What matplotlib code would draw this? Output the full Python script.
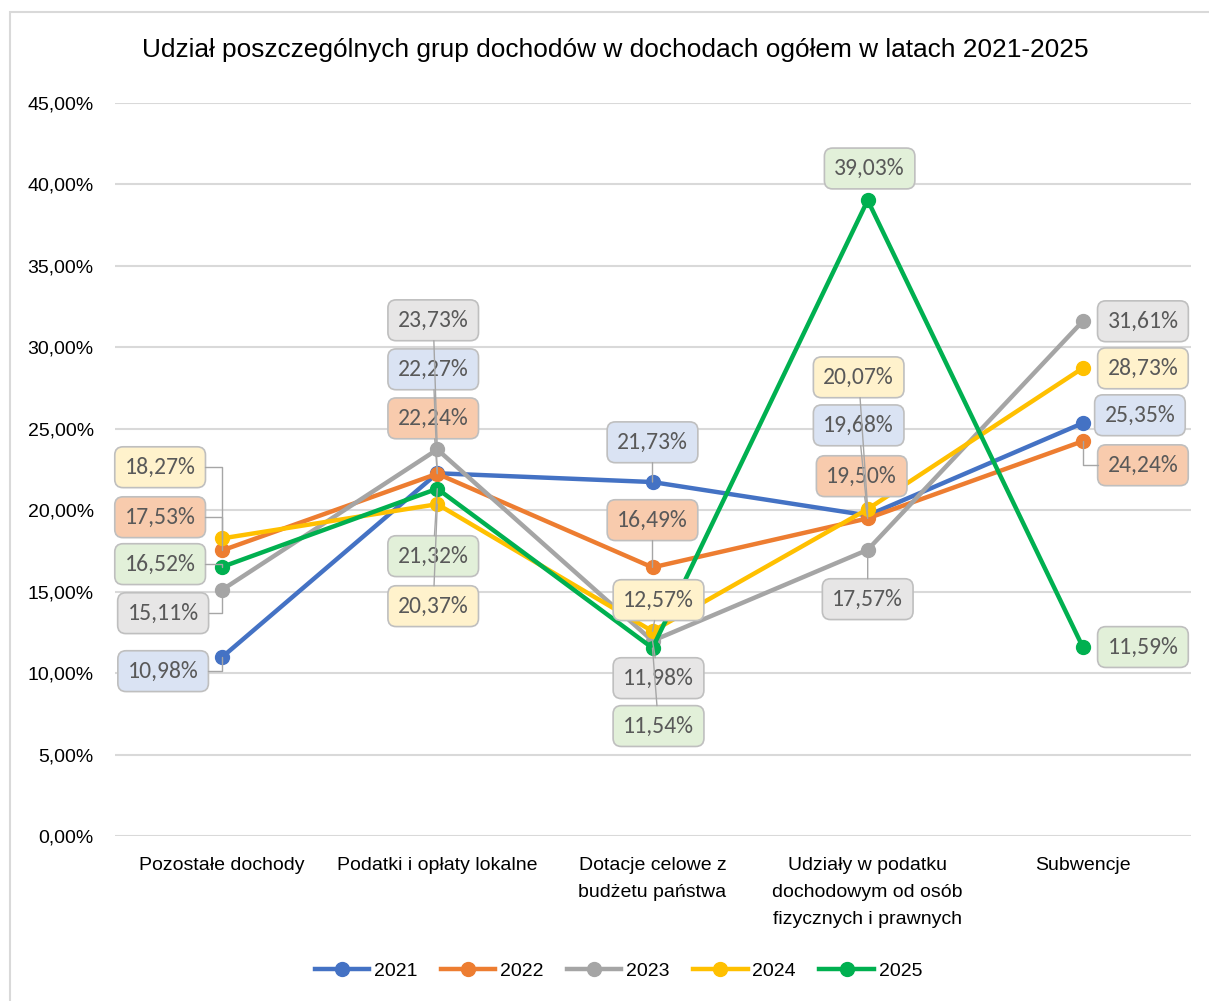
import matplotlib
matplotlib.use("Agg")
import matplotlib.pyplot as plt
from matplotlib import font_manager
from matplotlib.lines import Line2D
from matplotlib.patches import Rectangle
from matplotlib.ticker import FuncFormatter

# ---------------- data ----------------
categories = [
    "Pozostałe dochody",
    "Podatki i opłaty lokalne",
    "Dotacje celowe z\nbudżetu państwa",
    "Udziały w podatku\ndochodowym od osób\nfizycznych i prawnych",
    "Subwencje",
]
years = ["2021", "2022", "2023", "2024", "2025"]
v2021 = [10.98, 22.27, 21.73, 19.68, 25.35]
v2022 = [17.53, 22.24, 16.49, 19.50, 24.24]
v2023 = [15.11, 23.73, 11.98, 17.57, 31.61]
v2024 = [18.27, 20.37, 12.57, 20.07, 28.73]
v2025 = [16.52, 21.32, 11.54, 39.03, 11.59]
series = [v2021, v2022, v2023, v2024, v2025]
y_ticks = [0, 5, 10, 15, 20, 25, 30, 35, 40, 45]

# ---------------- style ----------------
line_colors = ["#4472C4", "#ED7D31", "#A5A5A5", "#FFC000", "#00B050"]
box_colors = ["#DAE3F3", "#F8CBAD", "#E7E6E6", "#FFF2CC", "#E2F0D9"]

# label placement (x in category units, y in %, leader type)
label_pos = [
    [(-0.274, 10.12, "h"), (0.981, 28.65, "v"), (2.0, 24.17, "v"), (2.958, 25.21, "v"), (4.265, 25.83, None)],
    [(-0.288, 19.57, "h"), (0.981, 25.64, "v"), (2.0, 19.39, "v"), (2.972, 22.09, "v"), (4.279, 22.76, "h")],
    [(-0.274, 13.68, "h"), (0.981, 31.66, "v"), (2.028, 9.69, "v"), (3.0, 14.54, "v"), (4.279, 31.60, None)],
    [(-0.288, 22.64, "h"), (0.981, 14.11, "v"), (2.028, 14.48, "v"), (2.958, 28.16, "v"), (4.279, 28.71, None)],
    [(-0.288, 16.69, "h"), (0.981, 17.18, "v"), (2.028, 6.75, "v"), (3.009, 40.98, None), (4.279, 11.60, None)],
]

names = {f.name for f in font_manager.fontManager.ttflist}
if "Liberation Sans Narrow" in names:
    axis_font, axis_size, title_size = "Liberation Sans Narrow", 17, 22.5
else:
    axis_font, axis_size, title_size = "Liberation Sans", 14, 18.9
if "Carlito" in names:
    lab_font, lab_size = "Carlito", 17
else:
    lab_font, lab_size = "Lato", 15.5

W, H = 1209, 1001
fig = plt.figure(figsize=(W / 100, H / 100), dpi=100)
fig.patch.set_facecolor("white")

# chart area border
fig.patches.append(Rectangle((10 / W, -0.05), 1.2, 1 - 12 / H + 0.05,
                             transform=fig.transFigure, fill=False,
                             edgecolor="#D9D9D9", lw=1.5, zorder=0))

ax = fig.add_axes([114.5 / W, 1 - 836 / H, (1190.5 - 114.5) / W, (836 - 103) / H])
ax.set_xlim(-0.5, 4.5)
ax.set_ylim(0, 45)
ax.set_yticks(y_ticks)
ax.yaxis.set_major_formatter(FuncFormatter(lambda v, p: f"{v:.2f}".replace(".", ",") + "%"))
xs = list(range(len(categories)))
ax.set_xticks(xs)
ax.set_xticklabels([])
for s in ax.spines.values():
    s.set_visible(False)
ax.tick_params(length=0)
ax.tick_params(axis="y", pad=15)
for t in ax.get_yticklabels():
    t.set_fontfamily(axis_font)
    t.set_fontsize(axis_size)
    t.set_color("#000000")
ax.grid(axis="y", color="#D9D9D9", lw=1.5)
ax.set_axisbelow(True)

# category labels
for j, cat in enumerate(categories):
    ax.text(j, -(857 - 836) / (836 - 103), cat, transform=ax.get_xaxis_transform(),
            ha="center", va="top", multialignment="center", linespacing=1.75,
            fontfamily=axis_font, fontsize=axis_size, color="#000000")

for i, vals in enumerate(series):
    ax.plot(xs, vals, color=line_colors[i], lw=3.2, marker="o", ms=10,
            solid_capstyle="round", zorder=3 + i * 0.01)

bbox_style = "round,pad=0.42,rounding_size=0.35"
for i, vals in enumerate(series):
    for j, v in enumerate(vals):
        lx, ly, lead = label_pos[i][j]
        txt = f"{v:.2f}".replace(".", ",") + "%"
        ax.annotate(txt, xy=(j, v), xytext=(lx, ly), ha="center", va="center",
                    fontfamily=lab_font, fontsize=lab_size, color="#595959",
                    bbox=dict(boxstyle=bbox_style, fc=box_colors[i], ec="#BFBFBF", lw=1.2),
                    zorder=5)
        if lead is not None:
            cs = "angle,angleA=0,angleB=90,rad=0" if lead == "h" else "arc3,rad=0"
            ax.annotate(txt, xy=(j, v), xytext=(lx, ly), ha="center", va="center",
                        fontfamily=lab_font, fontsize=lab_size, color="none",
                        bbox=dict(boxstyle=bbox_style, fc="none", ec="none", lw=1.2),
                        arrowprops=dict(arrowstyle="-", color="#A6A6A6", lw=1.0,
                                        shrinkA=0, shrinkB=0, connectionstyle=cs),
                        zorder=6)

fig.text(615.5 / W, 1 - 50 / H,
         "Udział poszczególnych grup dochodów w dochodach ogółem w latach 2021-2025",
         ha="center", va="center", fontfamily=axis_font, fontsize=title_size, color="#000000")

handles = [Line2D([], [], color=c, lw=3.2, marker="o", ms=10) for c in line_colors]
leg = fig.legend(handles, years, loc="center", bbox_to_anchor=(618.5 / W, 1 - 971 / H),
                 ncol=5, frameon=False, handlelength=2.8, handletextpad=0.25,
                 columnspacing=1.2, prop={"family": axis_font, "size": axis_size})

fig.savefig("out.png", dpi=100, facecolor="white")
